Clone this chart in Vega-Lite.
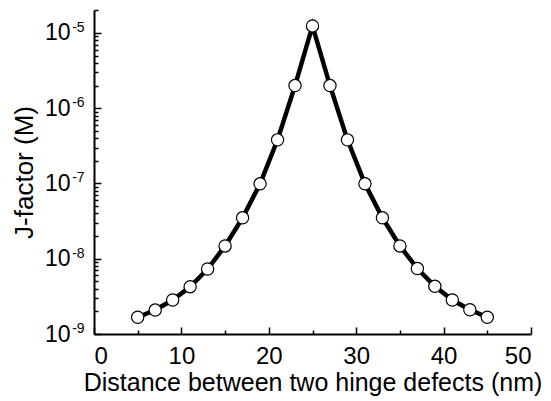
{
  "$schema": "https://vega.github.io/schema/vega-lite/v6.json",
  "autosize": {"type": "none"},
  "padding": {"left": 94, "top": 10, "right": 20, "bottom": 67},
  "width": 437,
  "height": 324,
  "background": "white",
  "config": {
    "view": {"stroke": null},
    "font": "Liberation Sans",
    "axis": {"grid": false, "domainColor": "black", "domainWidth": 2, "tickColor": "black", "tickWidth": 1.5, "labelColor": "black", "titleColor": "black", "labelFont": "Liberation Sans", "titleFont": "Liberation Sans", "titleFontWeight": "normal"}
  },
  "layer": [
    {
      "data": {
        "values": [
          {"x": 5, "j": 1.67e-9},
          {"x": 7, "j": 2.08e-9},
          {"x": 9, "j": 2.83e-9},
          {"x": 11, "j": 4.25e-9},
          {"x": 13, "j": 7.3e-9},
          {"x": 15, "j": 1.48e-8},
          {"x": 17, "j": 3.5e-8},
          {"x": 19, "j": 9.9e-8},
          {"x": 21, "j": 3.8e-7},
          {"x": 23, "j": 2.0e-6},
          {"x": 25, "j": 1.24e-5},
          {"x": 27, "j": 2.0e-6},
          {"x": 29, "j": 3.8e-7},
          {"x": 31, "j": 9.9e-8},
          {"x": 33, "j": 3.5e-8},
          {"x": 35, "j": 1.48e-8},
          {"x": 37, "j": 7.4e-9},
          {"x": 39, "j": 4.3e-9},
          {"x": 41, "j": 2.83e-9},
          {"x": 43, "j": 2.1e-9},
          {"x": 45, "j": 1.67e-9}
        ]
      },
      "encoding": {
        "x": {
          "field": "x", "type": "quantitative",
          "scale": {"domain": [0, 50], "nice": false, "zero": false},
          "axis": {
            "title": "Distance between two hinge defects (nm)",
            "titleFontSize": 25, "titlePadding": 2,
            "labelFontSize": 24, "labelPadding": 17,
            "values": [0, 5, 10, 15, 20, 25, 30, 35, 40, 45, 50],
            "labelExpr": "datum.value % 10 == 0 ? datum.label : ''",
            "tickSize": {"condition": {"test": "datum.value % 10 == 0", "value": -7}, "value": -4}
          }
        },
        "y": {
          "field": "j", "type": "quantitative",
          "scale": {"type": "log", "domain": [1e-9, 2.02e-5], "nice": false},
          "axis": {
            "title": "J-factor (M)",
            "titleFontSize": 26, "titlePadding": 7,
            "labelFontSize": 23, "labelPadding": 31,
            "values": [1e-9, 2e-9, 3e-9, 4e-9, 5e-9, 6e-9, 7e-9, 8e-9, 9e-9, 1e-8, 2e-8, 3e-8, 4e-8, 5e-8, 6e-8, 7e-8, 8e-8, 9e-8, 1e-7, 2e-7, 3e-7, 4e-7, 5e-7, 6e-7, 7e-7, 8e-7, 9e-7, 1e-6, 2e-6, 3e-6, 4e-6, 5e-6, 6e-6, 7e-6, 8e-6, 9e-6, 1e-5, 2e-5],
            "labelExpr": "abs(log(datum.value)/LN10 - round(log(datum.value)/LN10)) < 1e-6 ? '10' : ''",
            "tickSize": {"condition": {"test": "abs(log(datum.value)/LN10 - round(log(datum.value)/LN10)) < 1e-6", "value": -7}, "value": -4}
          }
        }
      },
      "layer": [
        {"mark": {"type": "line", "color": "black", "strokeWidth": 4.5}},
        {"mark": {"type": "point", "shape": "circle", "filled": true, "fill": "white", "stroke": "black", "strokeWidth": 1.2, "size": 150, "opacity": 1}}
      ]
    },
    {
      "data": {
        "values": [
          {"j": 1e-9, "sup": "-9"},
          {"j": 1e-8, "sup": "-8"},
          {"j": 1e-7, "sup": "-7"},
          {"j": 1e-6, "sup": "-6"},
          {"j": 1e-5, "sup": "-5"}
        ]
      },
      "mark": {"type": "text", "align": "left", "baseline": "alphabetic", "fontSize": 14, "color": "black", "font": "Liberation Sans", "dy": -1},
      "encoding": {
        "x": {"datum": -2.5, "type": "quantitative"},
        "y": {"field": "j", "type": "quantitative"},
        "text": {"field": "sup"}
      }
    }
  ]
}
